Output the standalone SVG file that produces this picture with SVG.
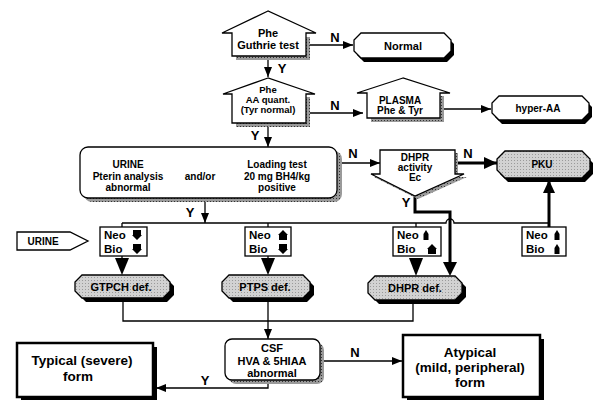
<svg xmlns="http://www.w3.org/2000/svg" width="599" height="401" viewBox="0 0 599 401">
<defs>
<pattern id="stip" width="3" height="3" patternUnits="userSpaceOnUse"><rect width="3" height="3" fill="#9a9a9a"/><rect width="1" height="1" fill="#333"/></pattern>
<pattern id="lgray" width="3" height="3" patternUnits="userSpaceOnUse"><rect width="3" height="3" fill="#d2d2d2"/><rect x="1" y="1" width="1" height="1" fill="#9a9a9a"/></pattern>
<marker id="ah" markerUnits="userSpaceOnUse" markerWidth="10" markerHeight="8" refX="10" refY="4" orient="auto"><path d="M0,0 L10,4 L0,8 z" fill="#000"/></marker>
<marker id="ahb" markerUnits="userSpaceOnUse" markerWidth="13" markerHeight="12" refX="13" refY="6" orient="auto"><path d="M0,0 L13,6 L0,12 z" fill="#000"/></marker>
<path id="dn" d="M-4,-5 L4,-5 L4,0 L5,0 L0,5 L-5,0 L-4,0 z"/>
<path id="up" d="M-4,5 L4,5 L4,0 L5,0 L0,-5 L-5,0 L-4,0 z"/>
<path id="sup" d="M-2.5,5 L2.5,5 L2.5,-1 L0,-5 L-2.5,-1 z"/>
</defs>
<style>
text{font-family:"Liberation Sans",Arial,sans-serif;font-weight:bold;fill:#000}
.t9{font-size:9.5px;text-anchor:middle}
.t10{font-size:10px;text-anchor:middle}
.t11{font-size:11px;text-anchor:middle}
.nb{font-size:11.5px}
.lbl{font-size:13px;text-anchor:middle}
.big{font-size:13.5px;text-anchor:middle}
.sh{fill:url(#stip)}
.shk{fill:#000}
.wb{fill:#fff;stroke:#000;stroke-width:1.3}
.gb{fill:url(#lgray);stroke:#000;stroke-width:1.3}
.ln{fill:none;stroke:#000;stroke-width:1.3}
.th{fill:none;stroke:#000;stroke-width:3}
</style>
<rect width="599" height="401" fill="#fff"/>

<g id="connectors">
<line class="ln" x1="306" y1="45" x2="353" y2="45" marker-end="url(#ah)"/>
<line class="ln" x1="268" y1="56" x2="268" y2="77" marker-end="url(#ah)"/>
<line class="ln" x1="306" y1="113" x2="363" y2="113" marker-end="url(#ah)"/>
<line class="ln" x1="440" y1="109" x2="491" y2="109" marker-end="url(#ah)"/>
<line class="ln" x1="268" y1="123" x2="268" y2="147" marker-end="url(#ah)"/>
<line class="ln" x1="342" y1="163" x2="380" y2="163" marker-end="url(#ah)"/>
<line class="th" x1="455" y1="163" x2="497" y2="163" stroke-width="2.5" marker-end="url(#ahb)"/>
<line class="ln" x1="205" y1="202" x2="205" y2="223" marker-end="url(#ah)"/>
<path class="ln" d="M122,223 L446,223 A4,4 0 0 1 454,223 L549,223"/>
<line class="ln" x1="122" y1="223" x2="122" y2="227"/>
<line class="ln" x1="268" y1="223" x2="268" y2="227"/>
<line class="ln" x1="416" y1="223" x2="416" y2="227"/>
<path class="th" d="M415,196 L415,212 L450,212 L450,264"/>
<path d="M443,262 L457,262 L450,276 z"/>
<line class="th" x1="549" y1="227" x2="549" y2="180" stroke-width="2.5" marker-end="url(#ahb)"/>
<line class="ln" x1="122" y1="256" x2="122" y2="262"/>
<path d="M115,258 L129,258 L122,275 z"/>
<line class="ln" x1="268" y1="256" x2="268" y2="262"/>
<path d="M261,258 L275,258 L268,275 z"/>
<path d="M409,258 L423,258 L416,276 z"/>
<path class="ln" d="M123,302 L123,321 L413,321 L413,302"/>
<line class="ln" x1="268" y1="302" x2="268" y2="339" marker-end="url(#ah)"/>
<line class="ln" x1="324" y1="361" x2="402" y2="361" marker-end="url(#ah)"/>
<path class="ln" d="M268,384 L268,388 L156,388" marker-end="url(#ah)"/>
<text class="lbl" x="335" y="42">N</text>
<text class="lbl" x="282" y="73">Y</text>
<text class="lbl" x="335" y="110">N</text>
<text class="lbl" x="255" y="140">Y</text>
<text class="lbl" x="353" y="158">N</text>
<text class="lbl" x="468" y="158">N</text>
<text class="lbl" x="190" y="217">Y</text>
<text class="lbl" x="406" y="207">Y</text>
<text class="lbl" x="355" y="357">N</text>
<text class="lbl" x="205" y="385">Y</text>
</g>

<g id="guthrie">
<rect class="sh" x="236" y="37" width="74" height="23"/>
<polygon class="wb" points="268,11 222,33 232,33 232,56 306,56 306,33 316,33"/>
<text class="t11" x="268" y="37">Phe</text>
<text class="t11" x="268" y="49">Guthrie test</text>
</g>

<g id="normal">
<polygon class="shk" transform="translate(3,4)" points="361,33 444,33 451,40 451,51 444,58 361,58 354,51 354,40"/>
<polygon class="wb" points="361,33 444,33 451,40 451,51 444,58 361,58 354,51 354,40"/>
<text class="t11" x="403" y="50">Normal</text>
</g>

<g id="aaquant">
<rect class="sh" x="236" y="97" width="74" height="30"/>
<polygon class="wb" points="268,78 223,94 232,94 232,123 306,123 306,94 315,94"/>
<text class="t9" x="268" y="93">Phe</text>
<text class="t9" x="268" y="103">AA quant.</text>
<text class="t9" x="268" y="113">(Tyr normal)</text>
</g>

<g id="plasma">
<rect class="sh" x="371" y="96" width="73" height="26"/>
<polygon class="wb" points="403,78 357,93 367,93 367,118 440,118 440,93 450,93"/>
<text class="t10" x="400" y="104">PLASMA</text>
<text class="t10" x="400" y="114">Phe &amp; Tyr</text>
</g>

<g id="hyperaa">
<polygon class="shk" transform="translate(3,4)" points="499,96 582,96 589,103 589,113 582,120 499,120 492,113 492,103"/>
<polygon class="wb" points="499,96 582,96 589,103 589,113 582,120 499,120 492,113 492,103"/>
<text class="t10" x="538" y="112">hyper-AA</text>
</g>

<g id="urinebox">
<rect class="sh" x="84" y="151" width="258" height="51" rx="8"/>
<rect class="wb" x="80" y="147" width="257" height="51" rx="8"/>
<text class="t10" x="128" y="168">URINE</text>
<text class="t10" x="128" y="180">Pterin analysis</text>
<text class="t10" x="128" y="191">abnormal</text>
<text class="t10" x="200" y="180">and/or</text>
<text class="t10" x="277" y="168">Loading test</text>
<text class="t10" x="277" y="180">20 mg BH4/kg</text>
<text class="t10" x="277" y="191">positive</text>
</g>

<g id="dhpr">
<polygon class="sh" transform="translate(3,3)" points="380,150 455,150 455,174 464,174 415,196 371,174 380,174"/>
<polygon class="wb" points="380,150 455,150 455,174 464,174 415,196 371,174 380,174"/>
<text class="t10" x="415" y="161">DHPR</text>
<text class="t10" x="415" y="171">activity</text>
<text class="t10" x="415" y="181">Ec</text>
</g>

<g id="pku">
<polygon class="shk" transform="translate(3,4)" points="505,151 582,151 590,159 590,170 582,178 505,178 497,170 497,159"/>
<polygon class="gb" points="505,151 582,151 590,159 590,170 582,178 505,178 497,170 497,159"/>
<text class="t10" x="542" y="168">PKU</text>
</g>

<g id="urinearrow">
<polygon class="wb" points="17,232 70,232 88,241 70,250 17,250"/>
<text class="t10" x="43" y="245">URINE</text>
</g>

<g id="nb1">
<rect class="wb" x="100" y="227" width="47" height="29"/>
<text class="nb" x="104" y="239">Neo</text>
<text class="nb" x="104" y="253">Bio</text>
<use href="#dn" x="137" y="235"/>
<use href="#dn" x="137" y="249"/>
</g>

<g id="nb2">
<rect class="wb" x="245" y="227" width="46" height="29"/>
<text class="nb" x="249" y="239">Neo</text>
<text class="nb" x="249" y="253">Bio</text>
<use href="#up" x="283" y="235"/>
<use href="#dn" x="283" y="249"/>
</g>

<g id="nb3">
<rect class="wb" x="393" y="227" width="48" height="29"/>
<text class="nb" x="397" y="239">Neo</text>
<text class="nb" x="397" y="253">Bio</text>
<use href="#sup" x="426" y="235"/>
<use href="#up" x="432" y="249"/>
</g>

<g id="nb4">
<rect class="wb" x="522" y="227" width="44" height="29"/>
<text class="nb" x="526" y="239">Neo</text>
<text class="nb" x="526" y="253">Bio</text>
<use href="#sup" x="557" y="235"/>
<use href="#sup" x="557" y="249"/>
</g>

<g id="gtpch">
<polygon class="shk" transform="translate(4,4)" points="82,275 163,275 170,282 170,291 163,298 82,298 75,291 75,282"/>
<polygon class="gb" points="82,275 163,275 170,282 170,291 163,298 82,298 75,291 75,282"/>
<text class="t11" x="121" y="291">GTPCH def.</text>
</g>

<g id="ptps">
<polygon class="shk" transform="translate(4,4)" points="229,275 303,275 310,282 310,291 303,298 229,298 222,291 222,282"/>
<polygon class="gb" points="229,275 303,275 310,282 310,291 303,298 229,298 222,291 222,282"/>
<text class="t11" x="265" y="291">PTPS def.</text>
</g>

<g id="dhprdef">
<polygon class="shk" transform="translate(4,4)" points="375,276 455,276 462,283 462,293 455,300 375,300 368,293 368,283"/>
<polygon class="gb" points="375,276 455,276 462,283 462,293 455,300 375,300 368,293 368,283"/>
<text class="t11" x="415" y="292">DHPR def.</text>
</g>

<g id="csf">
<rect class="sh" x="229" y="343" width="95" height="41" rx="7"/>
<rect class="wb" x="225" y="339" width="95" height="41" rx="7"/>
<text class="t11" x="272" y="352">CSF</text>
<text class="t11" x="272" y="365">HVA &amp; 5HIAA</text>
<text class="t11" x="272" y="377">abnormal</text>
</g>

<g id="typical">
<rect class="shk" x="21" y="347" width="136" height="53"/>
<rect fill="#fff" stroke="#000" stroke-width="2.5" x="17" y="343" width="136" height="54"/>
<text class="big" x="82" y="365">Typical (severe)</text>
<text class="big" x="78" y="381">form</text>
</g>

<g id="atypical">
<rect class="shk" x="407" y="339" width="137" height="61"/>
<rect fill="#fff" stroke="#000" stroke-width="2.5" x="403" y="335" width="137" height="62"/>
<text class="big" x="470" y="357">Atypical</text>
<text class="big" x="470" y="372">(mild, peripheral)</text>
<text class="big" x="470" y="387">form</text>
</g>
</svg>
